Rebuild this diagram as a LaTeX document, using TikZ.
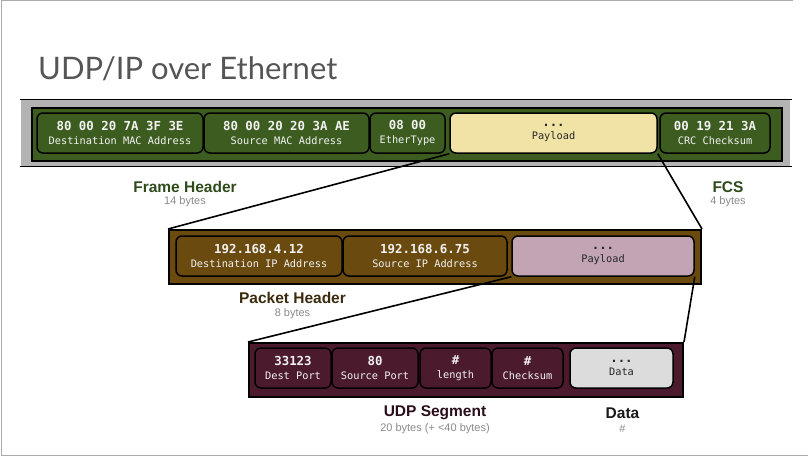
\documentclass[tikz,border=0pt]{standalone}
\usepackage{fontspec}
\setmainfont{Liberation Sans}
\newfontfamily\monof{DejaVu Sans Mono}
\newfontfamily\latof{Lato}
\definecolor{frameg}{HTML}{3D5C20}
\definecolor{ipbrown}{HTML}{6A4A0F}
\definecolor{udpm}{HTML}{4B1B2D}
\definecolor{fpayc}{HTML}{F1E3A6}
\definecolor{ipayc}{HTML}{C2A4B5}
\definecolor{datac}{HTML}{DCDCDC}
\definecolor{bandg}{HTML}{B3B3B3}
\definecolor{borderg}{HTML}{ABABAB}
\definecolor{titleg}{HTML}{555555}
\definecolor{subg}{HTML}{8A8A8A}
\definecolor{lblgreen}{HTML}{2E4A1B}
\definecolor{lblbrown}{HTML}{3B2A0E}
\definecolor{lblmaroon}{HTML}{2A0E1A}
\newcommand{\mtop}[1]{{\fontsize{12.4}{13.5}\selectfont\bfseries #1}}
\newcommand{\mbot}[1]{{\fontsize{10.3}{13.5}\selectfont #1}}
\begin{document}
\begin{tikzpicture}[x=1pt,y=-1pt,
  outerbox/.style={draw=black,line width=2pt,inner sep=0pt,anchor=north west},
  field/.style={draw=black,line width=1.5pt,rounded corners=6pt,inner sep=0pt,
     text=white!95!black,align=center,font=\monof\fontsize{10.3}{13.5}\selectfont},
  lightfield/.style={field,text=black!85},
  lbl/.style={font=\bfseries\fontsize{15.5}{17}\selectfont,inner sep=0pt},
  sublbl/.style={font=\fontsize{11}{13}\selectfont,text=subg,inner sep=0pt},
  link/.style={draw=black,line width=1.6pt}]
\useasboundingbox (0,0) rectangle (808,456);
% slide border
\draw[borderg,line width=1pt] (793,0.5) -- (1,0.5) -- (1,455) -- (808,455);
% title
\node[anchor=base west,inner sep=0pt,text=titleg,font=\latof\fontsize{31}{35}\selectfont] (title) at (38,79) {UDP/IP over Ethernet};
% ethernet band
\fill[bandg] (21,100) rectangle (790,166);
\draw[line width=1.8pt] (20,99.5) -- (792,99.5);
\draw[line width=1.8pt] (20,166.5) -- (792,166.5);
\node[outerbox,fill=frameg,minimum width=750pt,minimum height=53pt] (frame) at (31,107) {};
\node[field,fill=frameg,minimum width=166pt,minimum height=40pt] (dmac) at (120,133) {\mtop{80 00 20 7A 3F 3E}\\\mbot{Destination MAC Address}};
\node[field,fill=frameg,minimum width=165pt,minimum height=40pt] (smac) at (286.5,133) {\mtop{80 00 20 20 3A AE}\\\mbot{Source MAC Address}};
\node[field,fill=frameg,minimum width=75pt,minimum height=40pt] (etype) at (407.5,133) {\mtop{08 00}\\\mbot{EtherType}};
\node[lightfield,fill=fpayc,minimum width=207pt,minimum height=40pt] (fpay) at (553.5,133) {\mtop{...}\\\mbot{Payload}};
\node[field,fill=frameg,minimum width=110pt,minimum height=40pt] (crc) at (715,133) {\mtop{00 19 21 3A}\\\mbot{CRC Checksum}};
\node[lbl,text=lblgreen] (fhlbl) at (185,187) {Frame Header};
\node[sublbl] (fhsub) at (185,201.5) {14 bytes};
\node[lbl,text=lblgreen] (fcslbl) at (728,187) {FCS};
\node[sublbl] (fcssub) at (728,201.5) {4 bytes};
% IP packet
\node[outerbox,fill=ipbrown,minimum width=532pt,minimum height=54pt] (ip) at (168,229) {};
\node[field,fill=ipbrown,minimum width=166pt,minimum height=40pt] (dip) at (259,256) {\mtop{192.168.4.12}\\\mbot{Destination IP Address}};
\node[field,fill=ipbrown,minimum width=164pt,minimum height=40pt] (sip) at (425,256) {\mtop{192.168.6.75}\\\mbot{Source IP Address}};
\node[lightfield,fill=ipayc,minimum width=182pt,minimum height=40pt] (ipay) at (603,256) {\mtop{...}\\\mbot{Payload}};
\node[lbl,text=lblbrown] (phlbl) at (292.5,298) {Packet Header};
\node[sublbl] (phsub) at (292.5,314) {8 bytes};
% UDP segment
\node[outerbox,fill=udpm,minimum width=434pt,minimum height=54pt] (udp) at (248,342) {};
\node[field,fill=udpm,minimum width=76pt,minimum height=40pt] (dport) at (293,368) {\mtop{33123}\\\mbot{Dest Port}};
\node[field,fill=udpm,minimum width=86pt,minimum height=40pt] (sport) at (375,368) {\mtop{80}\\\mbot{Source Port}};
\node[field,fill=udpm,minimum width=71pt,minimum height=40pt] (len) at (455.5,368) {\mtop{\#}\\\mbot{length}};
\node[field,fill=udpm,minimum width=71pt,minimum height=40pt] (csum) at (527.5,368) {\mtop{\#}\\\mbot{Checksum}};
\node[lightfield,fill=datac,minimum width=103pt,minimum height=40pt] (data) at (621.5,368) {\mtop{...}\\\mbot{Data}};
\node[lbl,text=lblmaroon] (udplbl) at (435,413) {UDP Segment};
\node[sublbl] (udpsub) at (435,429) {20 bytes (+ <40 bytes)};
\node[lbl,text=black!90] (datalbl) at (622.5,413) {Data};
\node[sublbl] (datasub) at (622.5,429) {\#};
% connectors
\draw[link] (fpay.south west) -- (ip.north west);
\draw[link] (fpay.south east) -- (ip.north east);
\draw[link] (ipay.south west) -- (udp.north west);
\draw[link] (ipay.south east) -- (udp.north east);
\end{tikzpicture}
\end{document}
